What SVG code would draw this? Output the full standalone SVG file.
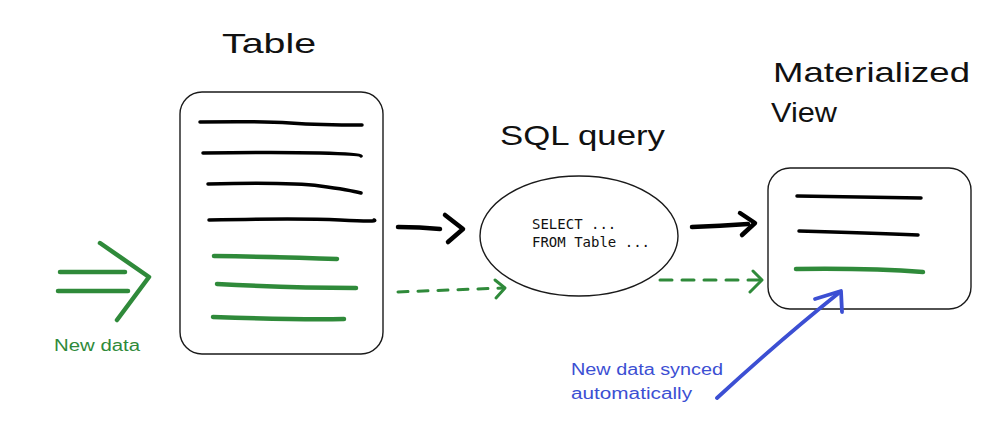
<svg xmlns="http://www.w3.org/2000/svg" width="1004" height="435" viewBox="0 0 1004 435">
<style>
.box{fill:#fff;stroke:#1a1a1a;stroke-width:1.4}
.bl{fill:none;stroke:#000;stroke-width:3.5;stroke-linecap:round;stroke-linejoin:round}
.gl{fill:none;stroke:#2f8a3a;stroke-width:4.5;stroke-linecap:round;stroke-linejoin:round}
.ga{fill:none;stroke:#2f8a3a;stroke-width:3;stroke-linecap:round;stroke-linejoin:round}
.ba{fill:none;stroke:#000;stroke-width:4.5;stroke-linecap:round;stroke-linejoin:round}
.blue{fill:none;stroke:#3c4fd3;stroke-width:3.8;stroke-linecap:round;stroke-linejoin:round}
.title{font-family:"Comic Sans MS","Liberation Sans",sans-serif;font-size:28px;fill:#111}
.note{font-family:"Liberation Sans",sans-serif;font-size:16px}
.mono{font-family:"DejaVu Sans Mono","Liberation Mono",monospace;font-size:14px;fill:#111}
</style>
<rect width="1004" height="435" fill="#fff"/>
<g id="table">
<text class="title" x="222" y="53" textLength="94" lengthAdjust="spacingAndGlyphs">Table</text>
<rect class="box" x="180" y="92" width="203" height="262" rx="22"/>
<path class="bl" d="M200 122 Q260 121 290 123 T362 125"/>
<path class="bl" d="M203 153 Q280 152 320 153 T361 156"/>
<path class="bl" d="M208 184 Q290 182 320 186 T361 193"/>
<path class="bl" d="M209 220 Q300 218 340 220 T374 220"/>
<path class="gl" d="M214 256 Q290 257 337 259"/>
<path class="gl" d="M217 284 Q290 288 356 288"/>
<path class="gl" d="M213 317 Q300 320 344 319"/>
</g>
<g id="new-data">
<path class="gl" d="M60 272 L125 272"/>
<path class="gl" d="M58 291 L128 291"/>
<path class="gl" d="M100 243 L149 277 L117 320"/>
<text class="note" x="54" y="351" fill="#2f8a3a" textLength="86" lengthAdjust="spacingAndGlyphs">New data</text>
</g>
<g id="sql-query">
<text class="title" x="500" y="145" textLength="165" lengthAdjust="spacingAndGlyphs">SQL query</text>
<ellipse class="box" cx="579" cy="236" rx="99" ry="60"/>
<text class="mono" x="532" y="229">SELECT ...</text>
<text class="mono" x="532" y="247">FROM Table ...</text>
</g>
<g id="materialized-view">
<text class="title" x="773" y="82" textLength="197" lengthAdjust="spacingAndGlyphs">Materialized</text>
<text class="title" x="771" y="122" textLength="66" lengthAdjust="spacingAndGlyphs">View</text>
<rect class="box" x="768" y="168" width="203" height="141" rx="22"/>
<path class="bl" d="M797 196 Q870 197 921 198"/>
<path class="bl" d="M799 231 Q870 233 918 235"/>
<path class="gl" d="M796 269 Q870 268 923 272"/>
</g>
<g id="annotation">
<text class="note" fill="#3c4fd3" x="571" y="375" textLength="152" lengthAdjust="spacingAndGlyphs">New data synced</text>
<text class="note" fill="#3c4fd3" x="571" y="399" textLength="121" lengthAdjust="spacingAndGlyphs">automatically</text>
</g>
<g id="connectors">
<path class="ba" d="M398 227 Q420 227 440 229"/>
<path class="ba" d="M445 215 L463 229 L448 242"/>
<path class="ga" d="M398 292 L504 288" stroke-dasharray="10 10"/>
<path class="ga" d="M495 280 L505 288 L496 298"/>
<path class="ba" d="M692 227 Q720 226 748 224"/>
<path class="ba" d="M740 213 L755 223 L742 235"/>
<path class="ga" d="M660 280 L760 280" stroke-dasharray="12 10"/>
<path class="ga" d="M753 271 L762 280 L750 292"/>
<path class="blue" d="M717 398 Q780 340 840 292"/>
<path class="blue" d="M815 299 L841 291 L842 312"/>
</g>
</svg>
